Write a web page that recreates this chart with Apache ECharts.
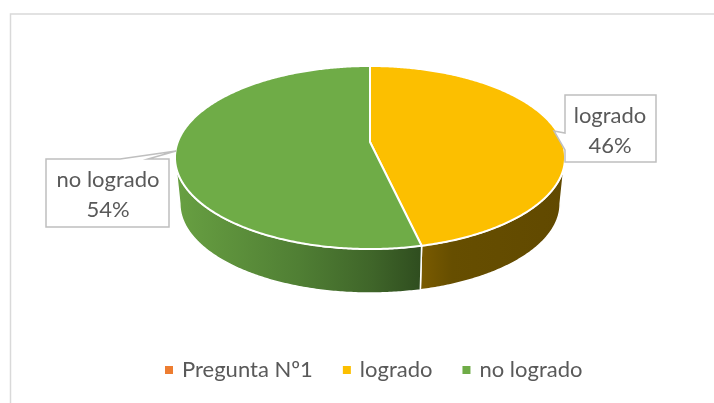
<!DOCTYPE html>
<html>
<head>
<meta charset="utf-8">
<style>html,body{margin:0;padding:0;background:#fff}#c{width:714px;height:403px}</style>
<script src="https://cdn.jsdelivr.net/npm/echarts@6/dist/echarts.min.js"></script>
</head>
<body>
<div id="c"></div>
<script>
var categories = ['Pregunta Nº1', 'logrado', 'no logrado'];
var values = [0, 46.4, 53.6];
var colors = ['#ED7D31', '#FCBF00', '#6FAC47'];

var FONT = 'Lato, "Open Sans", sans-serif';
var TEXT = '#595959';
var EDGE = '#BFBFBF';

// Tilted disc: plane with perspective
var P = {cx: 370, cy: 142, f: 192.2, g: 88.9, k: 0.1694, scaleB: 0.975, cyB: 188.7};
function pt(theta, bottom) {
  var u = Math.sin(theta), v = -Math.cos(theta), w = 1 - P.k * v;
  var s = bottom ? P.scaleB : 1, cy = bottom ? P.cyB : P.cy;
  return [P.cx + s * P.f * u / w, cy + s * P.g * v / w];
}
function arc(a0, a1, bottom) {
  var out = [], n = Math.max(2, Math.ceil(Math.abs(a1 - a0) / 0.01));
  for (var i = 0; i <= n; i++) out.push(pt(a0 + (a1 - a0) * i / n, bottom));
  return out;
}
var total = values.reduce(function (a, b) { return a + b; }, 0);
function angles(idx) {
  var s = 0;
  for (var i = 0; i < idx; i++) s += values[i];
  return [s / total * 2 * Math.PI, (s + values[idx]) / total * 2 * Math.PI];
}
var SIL = Math.acos(-P.k); // silhouette angle of the disc

var sideFill = {
  1: [[0, '#7A5B00'], [0.22, '#664E00'], [1, '#614900']],
  2: [[0, '#68A042'], [0.5, '#507F34'], [0.8, '#3F6529'], [1, '#2F4D1F']]
};
var labels = {
  1: {box: [565, 95, 656, 162], tip: [554, 131], base: [[565, 133], [565, 150]], side: 'left', tx: 610, ty: 116},
  2: {box: [46, 159, 169, 227], tip: [176, 151], base: [[120, 159], [148, 159]], side: 'top', tx: 108, ty: 180}
};

function sliceItem(idx) {
  return function (params, api) {
    var a = angles(idx), children = [];
    var lo = Math.max(a[0], SIL), hi = Math.min(a[1], 2 * Math.PI - SIL);
    if (hi > lo) {
      var t = arc(lo, hi, false), b = arc(lo, hi, true).reverse();
      var xs = t.concat(b).map(function (p) { return p[0]; });
      var x0 = Math.min.apply(null, xs), x1 = Math.max.apply(null, xs);
      var stops = sideFill[idx].map(function (s) {
        return {offset: s[0], color: s[1]};
      });
      var grad = new echarts.graphic.LinearGradient(x0, 0, x1, 0, stops, true);
      children.push({type: 'polygon', shape: {points: t.concat(b)},
        style: {fill: grad, stroke: '#FFFFFF', lineWidth: 1.5}});
    }
    var top = arc(a[0], a[1], false);
    top.push([P.cx, P.cy]);
    children.push({type: 'polygon', shape: {points: top},
      style: {fill: colors[idx], stroke: '#FFFFFF', lineWidth: 2, lineJoin: 'round'}});
    return {type: 'group', children: children};
  };
}
function labelItem(idx) {
  return function () {
    var L = labels[idx], B = L.box, pts;
    if (L.side === 'left') {
      pts = [[B[0], B[1]], [B[2], B[1]], [B[2], B[3]], [B[0], B[3]], L.base[1], L.tip, L.base[0]];
    } else {
      pts = [[B[0], B[1]], L.base[0], L.tip, L.base[1], [B[2], B[1]], [B[2], B[3]], [B[0], B[3]]];
    }
    var pct = Math.round(values[idx] / total * 100) + '%';
    return {type: 'group', children: [
      {type: 'polygon', shape: {points: pts}, style: {fill: '#FFFFFF', stroke: EDGE, lineWidth: 1.5}},
      {type: 'text', style: {x: L.tx, y: L.ty, text: categories[idx], fill: TEXT, font: '22px ' + FONT, align: 'center', verticalAlign: 'middle'}},
      {type: 'text', style: {x: L.tx, y: L.ty + 29.5, text: pct, fill: TEXT, font: '22px ' + FONT, align: 'center', verticalAlign: 'middle'}}
    ]};
  };
}

var series = categories.map(function (name, i) {
  return {
    name: name, type: 'custom', coordinateSystem: 'none', silent: true,
    itemStyle: {color: colors[i]},
    z: 2,
    data: [values[i]],
    renderItem: values[i] > 0 ? sliceItem(i) : function () { return {type: 'group', children: []}; }
  };
});
categories.forEach(function (name, i) {
  if (values[i] > 0) series.push({
    name: name, type: 'custom', coordinateSystem: 'none', silent: true,
    itemStyle: {color: colors[i]}, z: 3, data: [values[i]], renderItem: labelItem(i)
  });
});

var chart = echarts.init(document.getElementById('c'), null, {renderer: 'canvas'});
chart.setOption({
  animation: false,
  backgroundColor: '#FFFFFF',
  graphic: [{type: 'polyline', z: 1, shape: {points: [[10.5, 403], [10.5, 14], [714, 14]]},
    style: {stroke: '#D9D9D9', lineWidth: 1.5, fill: null}}],
  legend: {
    data: categories, left: 160, top: 354, icon: 'rect', itemWidth: 8, itemHeight: 8, itemGap: 30,
    selectedMode: false,
    textStyle: {color: TEXT, fontFamily: FONT, fontSize: 22, padding: [0, 0, 0, 4]}
  },
  series: series
});
</script>
</body>
</html>
